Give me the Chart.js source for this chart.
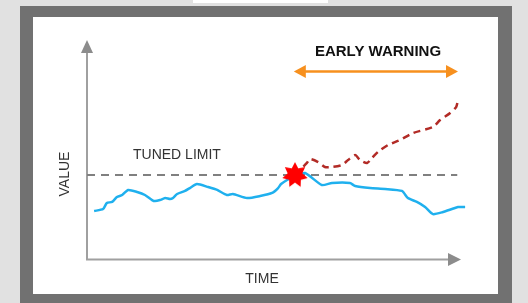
<!DOCTYPE html>
<html>
<head>
<meta charset="utf-8">
<script src="https://cdn.jsdelivr.net/npm/chart.js@4.4.0/dist/chart.umd.min.js"></script>
<style>
  html, body { margin: 0; padding: 0; background: #e1e1e1; overflow: hidden; }
  canvas { display: block; }
</style>
</head>
<body>
<div style="width:528px;height:303px"><canvas id="myChart" width="528" height="303"></canvas></div>
<script>
// measured signal (time 0..100, value 0..130)
const signalTime  = [1.9, 4.3, 5.3, 6.7, 8.0, 9.4, 11.0, 13.4, 15.5, 17.4, 18.2, 19.5, 20.9, 22.2, 23.0, 24.1, 26.2, 27.5, 29.4, 32.4, 34.8, 37.4, 39.0, 42.8, 46.3, 49.5, 51.1, 51.9, 53.5, 55.6, 58.3, 62.8, 65.5, 70.3, 71.7, 75.7, 79.7, 84.2, 85.8, 88.2, 90.4, 92.5, 95.2, 97.6, 99.2, 101.1];
const signalValue = [28.7, 29.9, 33.5, 34.1, 37.0, 38.2, 41.2, 40.0, 38.2, 35.2, 34.6, 35.2, 36.4, 35.8, 36.4, 38.8, 40.6, 42.3, 44.7, 42.9, 41.2, 38.2, 38.8, 36.4, 37.6, 39.4, 42.3, 44.7, 47.1, 49.5, 51.2, 44.1, 45.3, 45.3, 43.5, 42.3, 41.8, 40.6, 36.4, 34.1, 31.1, 26.9, 28.1, 29.9, 31.1, 31.1];

// predicted drift after the breach
const driftTime  = [55.6, 58.8, 59.6, 61.8, 63.6, 65.5, 68.2, 69.8, 71.7, 73.0, 74.9, 76.2, 77.8, 80.5, 83.7, 87.2, 92.5, 94.4, 97.1, 98.7, 99.2];
const driftValue = [50.0, 57.2, 59.5, 57.7, 54.8, 54.8, 56.0, 58.9, 61.9, 58.9, 57.2, 60.1, 63.7, 67.8, 70.8, 74.9, 78.5, 82.6, 86.8, 90.3, 94.5];

const limitValue = 50;
const limitRange = [0, 99];
const breachTime = 55.6;
const warningRange = [55.3, 99.2];
const warningLevel = 111.3;

function makeStar() {
    const c = document.createElement('canvas');
    c.width = 28; c.height = 28;
    const g = c.getContext('2d');
    const n = 7, outer = 13, inner = 7.5;
    g.beginPath();
    for (let i = 0; i < n * 2; i++) {
        const r = i % 2 === 0 ? outer : inner;
        const a = -Math.PI / 2 + i * Math.PI / n;
        const px = 14 + r * Math.cos(a), py = 14 + r * Math.sin(a);
        if (i === 0) g.moveTo(px, py); else g.lineTo(px, py);
    }
    g.closePath();
    g.fillStyle = '#ff0000';
    g.fill();
    return c;
}

const framePlugin = {
    id: 'frame',
    beforeDraw(chart) {
        const ctx = chart.ctx;
        ctx.save();
        ctx.fillStyle = '#e1e1e1';
        ctx.fillRect(0, 0, 528, 303);
        ctx.fillStyle = '#ffffff';
        ctx.fillRect(193, 0, 135, 3);
        ctx.fillStyle = '#717171';
        ctx.fillRect(20, 6, 492, 297);
        ctx.fillStyle = '#ffffff';
        ctx.fillRect(33, 17, 465, 277);
        ctx.restore();
    },
    beforeDatasetsDraw(chart) {
        const ctx = chart.ctx;
        const a = chart.chartArea;
        ctx.save();
        ctx.strokeStyle = '#a0a0a0';
        ctx.fillStyle = '#8c8c8c';
        ctx.lineWidth = 2;
        // y axis
        ctx.beginPath();
        ctx.moveTo(a.left, a.bottom);
        ctx.lineTo(a.left, a.top + 12);
        ctx.stroke();
        ctx.beginPath();
        ctx.moveTo(a.left, a.top);
        ctx.lineTo(a.left - 6, a.top + 13);
        ctx.lineTo(a.left + 6, a.top + 13);
        ctx.closePath();
        ctx.fill();
        // x axis
        ctx.beginPath();
        ctx.moveTo(a.left - 1, a.bottom);
        ctx.lineTo(a.right - 12, a.bottom);
        ctx.stroke();
        ctx.beginPath();
        ctx.moveTo(a.right, a.bottom);
        ctx.lineTo(a.right - 13, a.bottom - 6.5);
        ctx.lineTo(a.right - 13, a.bottom + 6.5);
        ctx.closePath();
        ctx.fill();
        ctx.restore();
    },
    afterDraw(chart) {
        const ctx = chart.ctx;
        const xs = chart.scales.x, ys = chart.scales.y;
        ctx.save();
        // early warning arrow
        const x0 = xs.getPixelForValue(warningRange[0]);
        const x1 = xs.getPixelForValue(warningRange[1]);
        const yw = ys.getPixelForValue(warningLevel);
        ctx.strokeStyle = '#f7901e';
        ctx.fillStyle = '#f7901e';
        ctx.lineWidth = 2.5;
        ctx.beginPath();
        ctx.moveTo(x0 + 8, yw);
        ctx.lineTo(x1 - 8, yw);
        ctx.stroke();
        ctx.beginPath();
        ctx.moveTo(x0, yw); ctx.lineTo(x0 + 12, yw - 6.5); ctx.lineTo(x0 + 12, yw + 6.5);
        ctx.closePath(); ctx.fill();
        ctx.beginPath();
        ctx.moveTo(x1, yw); ctx.lineTo(x1 - 12, yw - 6.5); ctx.lineTo(x1 - 12, yw + 6.5);
        ctx.closePath(); ctx.fill();

        ctx.fillStyle = '#111111';
        ctx.textBaseline = 'middle';
        ctx.textAlign = 'center';
        ctx.font = 'bold 15px "Liberation Sans", Arial, sans-serif';
        ctx.fillText('EARLY WARNING', 378, 52);

        ctx.fillStyle = '#333333';
        ctx.font = '14px "Liberation Sans", Arial, sans-serif';
        ctx.textAlign = 'left';
        ctx.fillText('TUNED LIMIT', 133, 155);

        ctx.font = '14px "Liberation Sans", Arial, sans-serif';
        ctx.textAlign = 'center';
        ctx.fillText('TIME', 262, 279);

        ctx.translate(65, 174);
        ctx.rotate(-Math.PI / 2);
        ctx.font = '14px "Liberation Sans", Arial, sans-serif';
        ctx.fillText('VALUE', 0, 0);
        ctx.restore();
    }
};

const ctx = document.getElementById('myChart').getContext('2d');

const myChart = new Chart(ctx, {
    type: 'line',
    data: {
        datasets: [
            {
                data: [{ x: breachTime, y: limitValue }],
                showLine: false,
                pointStyle: makeStar(),
                pointRadius: 14,
                order: 0,
                clip: false
            },
            {
                data: driftTime.map((t, i) => ({ x: t, y: driftValue[i] })),
                borderColor: '#b22b26',
                borderWidth: 2.5,
                borderDash: [7, 5],
                pointRadius: 0,
                tension: 0.25,
                order: 1,
                clip: false
            },
            {
                data: signalTime.map((t, i) => ({ x: t, y: signalValue[i] })),
                borderColor: '#1fb0ee',
                borderWidth: 2.5,
                pointRadius: 0,
                tension: 0.2,
                order: 2,
                clip: false
            },
            {
                data: limitRange.map(t => ({ x: t, y: limitValue })),
                borderColor: '#808080',
                borderWidth: 2,
                borderDash: [8, 6],
                pointRadius: 0,
                order: 3,
                clip: false
            }
        ]
    },
    options: {
        responsive: false,
        maintainAspectRatio: false,
        animation: false,
        devicePixelRatio: 1,
        layout: { padding: { left: 87, right: 67, top: 40, bottom: 43.5 } },
        plugins: { legend: { display: false }, tooltip: { enabled: false } },
        scales: {
            x: { type: 'linear', min: 0, max: 100, display: false },
            y: { min: 0, max: 130, display: false }
        }
    },
    plugins: [framePlugin]
});
</script>
</body>
</html>
